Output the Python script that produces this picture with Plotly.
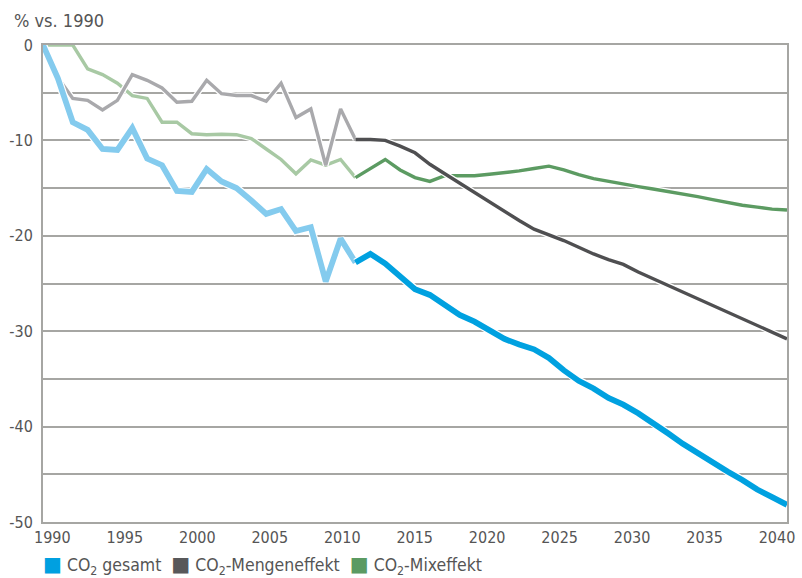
import plotly.graph_objects as go

# Years and CO2 change vs. 1990 (%)
years_hist = list(range(1990, 2012))
years_proj = list(range(2011, 2041))

gesamt_hist = [0, -3.5, -8.1, -8.9, -10.9, -11.0, -8.7, -11.9, -12.6, -15.3, -15.4,
               -13.0, -14.3, -15.0, -16.3, -17.7, -17.2, -19.5, -19.1, -24.8, -20.3, -22.8]
gesamt_proj = [-22.8, -21.9, -22.9, -24.3, -25.6, -26.2, -27.3, -28.3, -29.0, -29.9, -30.8,
               -31.4, -31.9, -32.8, -34.1, -35.2, -36.0, -37.0, -37.7, -38.6, -39.6,
               -40.7, -41.8, -42.8, -43.7, -44.7, -45.6, -46.6, -47.4, -48.2]

menge_hist = [0, -3.4, -5.6, -5.8, -6.8, -5.8, -3.1, -3.7, -4.5, -6.0, -5.9,
              -3.7, -5.1, -5.3, -5.3, -5.9, -4.0, -7.6, -6.7, -12.6, -6.7, -9.9]
menge_proj = [-9.9, -9.9, -10.0, -10.6, -11.3, -12.5, -13.5, -14.5, -15.5, -16.5, -17.5,
              -18.4, -19.3, -19.9, -20.5, -21.2, -21.9, -22.5, -23.0, -23.8, -24.5,
              -25.2, -25.9, -26.6, -27.3, -28.0, -28.7, -29.4, -30.1, -30.8]

mix_hist = [0, 0, 0, -2.5, -3.1, -4.0, -5.3, -5.6, -8.1, -8.1, -9.3,
            -9.4, -9.35, -9.4, -9.8, -10.9, -12.0, -13.5, -12.05, -12.6, -12.0, -13.9]
mix_proj = [-13.9, -12.9, -12.0, -13.1, -13.9, -14.3, -13.7, -13.7, -13.7, -13.55, -13.4,
            -13.2, -12.95, -12.7, -13.1, -13.6, -14.0, -14.3, -14.6, -14.85, -15.1,
            -15.35, -15.6, -15.9, -16.2, -16.5, -16.8, -17.0, -17.2, -17.3]

x_label_years = [1990, 1995, 2000, 2005, 2010, 2015, 2020, 2025, 2030, 2035, 2040]
y_tick_values = [0, -10, -20, -30, -40, -50]
y_tick_text = ["0", "-10", "-20", "-30", "-40", "-50"]
y_minor_values = [-5, -15, -25, -35, -45]

series_names = ["CO<sub>2</sub> gesamt", "CO<sub>2</sub>-Mengeneffekt", "CO<sub>2</sub>-Mixeffekt"]

FONT = "DejaVu Sans Condensed, Roboto, Arial, sans-serif"
TEXT = "#555555"
GRID = "#A6A6A3"

# (history y, projection y, light colour, dark colour, width)
styles = [
    (mix_hist, mix_proj, "#A8C9A4", "#5C9B62", 3.4),
    (menge_hist, menge_proj, "#A9A9AC", "#4F4F51", 3.4),
    (gesamt_hist, gesamt_proj, "#84CBEE", "#00A1E0", 5.8),
]

fig = go.Figure()
for hist, proj, light, dark, w in styles:
    for xs, ys, col in ((years_hist, hist, light), (years_proj, proj, dark)):
        # thin white halo under each line
        fig.add_trace(go.Scatter(x=xs, y=ys, mode="lines", showlegend=False, hoverinfo="skip",
                                 line=dict(color="white", width=w + 2.5)))
        fig.add_trace(go.Scatter(x=xs, y=ys, mode="lines", showlegend=False,
                                 line=dict(color=col, width=w)))

# x labels sit on a slightly compressed category-style spacing
lab_first, lab_last = 1990.63, 2039.33
step = (lab_last - lab_first) / (len(x_label_years) - 1)
x_label_pos = [lab_first + i * step for i in range(len(x_label_years))]

fig.update_layout(
    width=802, height=578,
    margin=dict(l=43, r=7, t=45, b=56),
    paper_bgcolor="white", plot_bgcolor="white",
    font=dict(family=FONT, color=TEXT, size=16),
    xaxis=dict(range=[1990, 2040], tickvals=x_label_pos, ticktext=[str(v) for v in x_label_years],
               showgrid=False, zeroline=False, showline=True, linecolor=GRID, linewidth=2,
               mirror=True, ticks="", ticklabeloverflow="allow",
               tickfont=dict(size=16, color=TEXT)),
    yaxis=dict(range=[-50, 0], tickvals=y_tick_values, ticktext=y_tick_text,
               showgrid=True, gridcolor=GRID, gridwidth=2, zeroline=False,
               showline=True, linecolor=GRID, linewidth=2, mirror=True, ticks="",
               ticklabelstandoff=5, tickfont=dict(size=16, color=TEXT),
               minor=dict(tickvals=y_minor_values, showgrid=True, gridcolor=GRID,
                          gridwidth=2, ticks="")),
    showlegend=False,
)

fig.add_annotation(text="% vs. 1990", xref="paper", yref="paper", x=0, y=1,
                   xshift=-31, yshift=25, xanchor="left", yanchor="middle",
                   showarrow=False, font=dict(size=18, color=TEXT, family=FONT))

legend_colors = ["#00A0E0", "#58585A", "#5B9A62"]
parts = []
for name, col in zip(series_names, legend_colors):
    parts.append(f"<span style='color:{col};font-family:DejaVu Sans;font-size:20px'>■</span> {name}")
fig.add_annotation(text="  ".join(parts), xref="paper", yref="paper", x=0, y=0,
                   xshift=-2, yshift=-43, xanchor="left", yanchor="middle",
                   showarrow=False, font=dict(size=17.5, color=TEXT, family=FONT))

fig.write_html("out.html")
